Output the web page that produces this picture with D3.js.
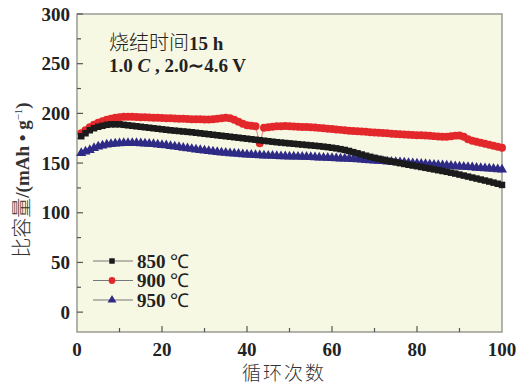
<!DOCTYPE html>
<html>
<head>
<meta charset="utf-8">
<script src="https://cdn.jsdelivr.net/npm/d3@7/dist/d3.min.js"></script>
<style>
  html, body { margin: 0; padding: 0; background: #fff; }
  svg { display: block; }
</style>
</head>
<body>
<svg id="chart" width="524" height="387"></svg>
<script>
// Cycle numbers and specific capacity (mAh/g) per sintering temperature
const cycles = d3.range(1, 101);

const cap850 = [
  177, 180, 183, 185, 186.5, 187.5, 188.5, 189, 189, 189,
  188.5, 188, 187.5, 187, 186.5, 186, 185.5, 185, 184.5, 184,
  183.5, 183, 182.6, 182.2, 181.8, 181.4, 181, 180.5, 180, 179.5,
  179, 178.5, 178, 177.5, 177, 176.5, 176, 175.5, 175, 174.5,
  174, 173.5, 173, 172.5, 172, 171.5, 171, 170.6, 170.2, 169.8,
  169.4, 169, 168.6, 168.2, 167.8, 167.4, 167, 166.5, 166, 165.4,
  164.8, 164, 163.2, 162.2, 161, 159.8, 158.6, 157.4, 156.3, 155.3,
  154.3, 153.3, 152.4, 151.5, 150.7, 149.9, 149.1, 148.3, 147.5, 146.8,
  146, 145.2, 144.4, 143.6, 142.8, 142, 141.2, 140.3, 139.4, 138.4,
  137.4, 136.4, 135.4, 134.4, 133.4, 132.4, 131.4, 130.3, 129.2, 128
];

const cap900 = [
  180, 183, 186, 188.5, 190.5, 192, 193.5, 194.5, 195.5, 196,
  196.5, 196.5, 196.5, 196.3, 196, 196, 195.8, 195.6, 195.5, 195.3,
  195, 195, 194.8, 194.6, 194.5, 194.3, 194.2, 194, 194, 193.8,
  193.8, 194, 194.5, 195, 195.5, 195, 193.5, 191.5, 189.5, 188,
  187.5, 187, 170, 185.5, 186, 186.5, 187, 187, 187.2, 187,
  186.8, 186.6, 186.4, 186.2, 186, 185.7, 185.4, 185, 184.6, 184.2,
  183.8, 183.4, 183, 182.6, 182.3, 182, 181.7, 181.4, 181.1, 180.8,
  180.5, 180.2, 179.9, 179.6, 179.3, 179, 178.7, 178.4, 178.2, 178,
  178, 177.7, 177.4, 177.1, 176.8, 176.5, 176.5, 177, 177.6, 177.8,
  176.5, 174, 172.5, 171.5, 170.5, 169.5, 168.5, 167.5, 166.5, 165.5
];

const cap950 = [
  160, 161.5, 163, 165, 166.5, 167.5, 168.5, 169, 169.5, 169.8,
  170, 170, 170, 170, 169.8, 169.6, 169.4, 169, 168.6, 168.2,
  167.8, 167.2, 166.6, 166, 165.4, 164.8, 164.2, 163.6, 163, 162.5,
  162, 161.5, 161, 160.6, 160.2, 159.8, 159.5, 159.2, 158.9, 158.6,
  158.3, 158, 157.8, 157.6, 157.4, 157.2, 157, 156.8, 156.7, 156.6,
  156.5, 156.4, 156.3, 156.2, 156, 155.8, 155.6, 155.4, 155.2, 155,
  154.8, 154.6, 154.4, 154.2, 154, 153.7, 153.4, 153.1, 152.8, 152.5,
  152.2, 151.9, 151.6, 151.3, 151, 150.7, 150.4, 150.1, 149.8, 149.5,
  149.2, 148.9, 148.6, 148.3, 148, 147.7, 147.4, 147.1, 146.8, 146.5,
  146.2, 145.9, 145.6, 145.3, 145, 144.7, 144.4, 144.1, 143.8, 143.5
];

const seriesNames = ["850 ℃", "900 ℃", "950 ℃"];
const xTicks = [0, 20, 40, 60, 80, 100];
const yTicks = [0, 50, 100, 150, 200, 250, 300];

const series = [
  { name: seriesNames[0], values: cap850, color: "#1b1b1b", symbol: d3.symbolSquare, size: 42, legSize: 30 },
  { name: seriesNames[1], values: cap900, color: "#e3282c", symbol: d3.symbolCircle, size: 50, legSize: 36 },
  { name: seriesNames[2], values: cap950, color: "#2e2a86", symbol: d3.symbolTriangle, size: 44, legSize: 34 }
];

const svg = d3.select("#chart");
const x = d3.scaleLinear().domain([0, 100]).range([77, 502]);
const y = d3.scaleLinear().domain([-20, 300]).range([332, 14]);

const serif = "'Liberation Serif', 'Times New Roman', serif";
const cjk = "'Noto Sans CJK SC', sans-serif";

// Plot area
svg.append("rect")
  .attr("x", x(0)).attr("y", y(300))
  .attr("width", x(100) - x(0)).attr("height", y(-20) - y(300))
  .attr("fill", "#f7f8e3")
  .attr("stroke", "#9a9a96").attr("stroke-width", 1.5);

// Inward ticks
const tickColor = "#555";
const gT = svg.append("g").attr("stroke", tickColor).attr("stroke-width", 1.2);
d3.range(0, 301, 25).forEach(v => {
  const len = v % 50 === 0 ? 6 : 4;
  gT.append("line").attr("x1", x(0)).attr("x2", x(0) + len).attr("y1", y(v)).attr("y2", y(v));
});
d3.range(10, 100, 10).forEach(v => {
  const len = v % 20 === 0 ? 6 : 4;
  gT.append("line").attr("x1", x(v)).attr("x2", x(v)).attr("y1", y(-20)).attr("y2", y(-20) - len);
});

// Tick labels
svg.append("g").selectAll("text").data(yTicks).join("text")
  .attr("x", 70).attr("y", d => y(d)).attr("dy", "0.35em")
  .attr("text-anchor", "end")
  .attr("font-family", serif).attr("font-weight", "bold").attr("font-size", 19)
  .attr("fill", "#222")
  .text(d => d);

svg.append("g").selectAll("text").data(xTicks).join("text")
  .attr("x", d => x(d)).attr("y", 356)
  .attr("text-anchor", "middle")
  .attr("font-family", serif).attr("font-weight", "bold").attr("font-size", 19)
  .attr("fill", "#222")
  .text(d => d);

// Axis titles
svg.append("text")
  .attr("x", 284).attr("y", 380)
  .attr("text-anchor", "middle")
  .attr("font-family", cjk).attr("font-size", 19).attr("font-weight", 300)
  .attr("letter-spacing", 2)
  .attr("fill", "#333")
  .text("循环次数");

const yTitle = svg.append("text")
  .attr("transform", "translate(29,180) rotate(-90)")
  .attr("text-anchor", "middle")
  .attr("fill", "#333");
yTitle.append("tspan").attr("font-family", cjk).attr("font-weight", 300).attr("font-size", 20).text("比容量");
yTitle.append("tspan").attr("font-family", serif).attr("font-weight", "bold").attr("font-size", 19).text("/(mAh • g");
yTitle.append("tspan").attr("font-family", serif).attr("font-size", 11).attr("dy", -7).text("−1");
yTitle.append("tspan").attr("font-family", serif).attr("font-weight", "bold").attr("font-size", 19).attr("dy", 7).text(")");

// Series: thin connecting line plus dense markers
const line = d3.line().x((d, i) => x(cycles[i])).y(d => y(d));
const gS = svg.append("g");
series.slice().reverse().forEach(s => {
  gS.append("path").datum(s.values)
    .attr("d", line).attr("fill", "none")
    .attr("stroke", s.color).attr("stroke-width", 1).attr("opacity", 0.6);
  gS.append("g").selectAll("path").data(s.values).join("path")
    .attr("transform", (d, i) => `translate(${x(cycles[i])},${y(d)})`)
    .attr("d", d3.symbol().type(s.symbol).size(s.size))
    .attr("fill", s.color);
});

// Annotation
const ann = svg.append("text").attr("x", 109).attr("y", 50).attr("fill", "#222");
ann.append("tspan").attr("font-family", cjk).attr("font-weight", 300).attr("font-size", 20).text("烧结时间");
ann.append("tspan").attr("font-family", serif).attr("font-weight", "bold").attr("font-size", 19).text("15 h");

const ann2 = svg.append("text").attr("x", 109).attr("y", 72).attr("fill", "#222")
  .attr("font-family", serif).attr("font-weight", "bold").attr("font-size", 19);
ann2.append("tspan").text("1.0 ");
ann2.append("tspan").attr("font-style", "italic").text("C");
ann2.append("tspan").text(" , 2.0∼4.6 V");

// Legend
const leg = svg.append("g");
series.forEach((s, i) => {
  const cy = 261 + i * 19.5;
  leg.append("line").attr("x1", 93).attr("x2", 133).attr("y1", cy).attr("y2", cy)
    .attr("stroke", "#777").attr("stroke-width", 1);
  leg.append("path").attr("transform", `translate(112,${cy})`)
    .attr("d", d3.symbol().type(s.symbol).size(s.legSize))
    .attr("fill", s.color);
  const t = leg.append("text").attr("x", 137).attr("y", cy + 6.5).attr("fill", "#222");
  const [num, unit] = s.name.split(" ");
  t.append("tspan").attr("font-family", serif).attr("font-weight", "bold").attr("font-size", 19).text(num + " ");
  t.append("tspan").attr("font-family", serif).attr("font-size", 19).text(unit);
});
</script>
</body>
</html>
